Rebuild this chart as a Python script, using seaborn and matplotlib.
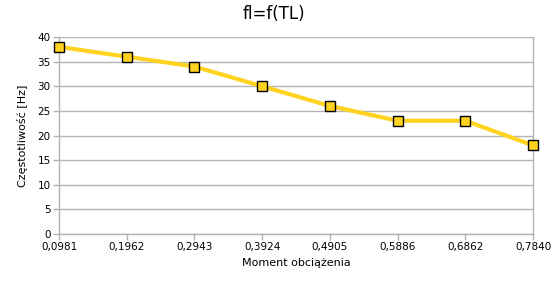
import matplotlib
matplotlib.use("Agg")
import matplotlib.pyplot as plt
import seaborn as sns
import pandas as pd

categories = ["0,0981", "0,1962", "0,2943", "0,3924", "0,4905", "0,5886", "0,6862", "0,7840"]
values = [38, 36, 34, 30, 26, 23, 23, 18]
yticks = [0, 5, 10, 15, 20, 25, 30, 35, 40]

sns.set_theme(style="white")
plt.rcParams['font.family'] = ['DejaVu Sans']

df = pd.DataFrame({"x": range(len(categories)), "y": values})

fig = plt.figure(figsize=(5.6, 2.84), dpi=100)
ax = fig.add_axes([59/560, 1-234/284, (533-59)/560, (234-37)/284])

sns.lineplot(data=df, x="x", y="y", ax=ax, color="#FFD320", linewidth=3, zorder=3)
ax.plot(df["x"], df["y"], linestyle="none", marker="s", markersize=7.5,
        markerfacecolor="#FFD320", markeredgecolor="black", markeredgewidth=1,
        zorder=4, clip_on=False)

ax.set_xlim(0, len(categories) - 1)
ax.set_ylim(0, 40)
ax.set_xticks(range(len(categories)))
ax.set_xticklabels(categories)
ax.set_yticks(yticks)
ax.yaxis.grid(True, color="#b3b3b3", linewidth=1)
ax.xaxis.grid(False)
for s in ax.spines.values():
    s.set_color("#b3b3b3")
    s.set_linewidth(1)
ax.spines["top"].set_visible(False)
ax.tick_params(axis="both", which="both", length=4, width=1, color="#b3b3b3",
               labelsize=7.5, labelcolor="black", pad=2, direction="out")
ax.tick_params(axis="x", bottom=True)
ax.tick_params(axis="y", left=True)
ax.set_xlabel("Moment obciążenia", fontsize=8, color="black", labelpad=4)
ax.set_ylabel("Częstotliwość [Hz]", fontsize=8, color="black", labelpad=7)
fig.text(0.49, 0.95, "fl=f(TL)", ha="center", va="center", fontsize=12, color="black")

fig.savefig("out.png", dpi=100)
